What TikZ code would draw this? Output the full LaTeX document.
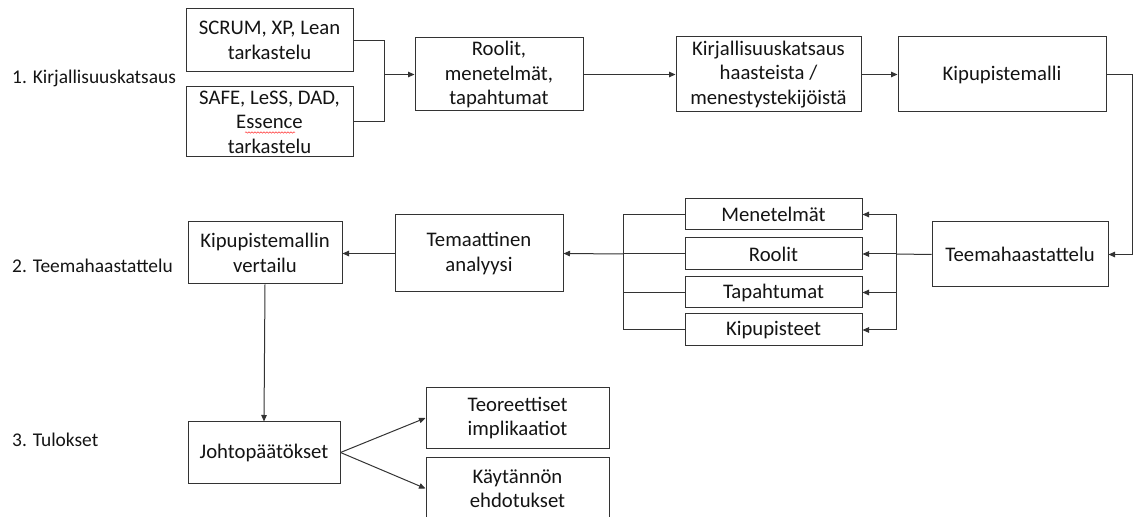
\documentclass[tikz,border=0pt]{standalone}
\usepackage{fontspec}
\setmainfont{Carlito}
\usetikzlibrary{arrows.meta,decorations.pathmorphing}
\begin{document}
\begin{tikzpicture}[x=1bp,y=-1bp,
  box/.style={draw=black!80, line width=1bp, fill=white, rectangle, inner sep=0pt,
    align=center, text=black!92, font=\fontsize{20.8}{24.5}\selectfont},
  link/.style={draw=black!80, line width=1bp},
  arr/.style={link, -{Triangle[length=6.5bp,width=5.5bp]}},
  phase/.style={anchor=west, inner sep=0pt, text=black!92,
    font=\fontsize{19.5}{23}\selectfont}]
\clip (0,0) rectangle (1135,517);

% phase labels
\node[phase] (p1) at (12,78) {1. Kirjallisuuskatsaus};
\node[phase] (p2) at (12,266) {2. Teemahaastattelu};
\node[phase] (p3) at (12,440) {3. Tulokset};

% phase 1
\node[box, minimum width=167bp, minimum height=63bp] (scrum) at (269.5,40.5) {SCRUM, XP, Lean\\tarkastelu};
\node[box, minimum width=167bp, minimum height=70bp] (safe) at (269.5,122) {SAFE, LeSS, DAD,\\Essence\\tarkastelu};
\node[box, minimum width=168bp, minimum height=73bp] (roles) at (499,74.5) {Roolit,\\menetelmät,\\tapahtumat};
\node[box, minimum width=185bp, minimum height=75bp] (review) at (768.5,74.5) {Kirjallisuuskatsaus\\haasteista /\\menestystekijöistä};
\node[box, minimum width=208bp, minimum height=75bp] (model) at (1002,74.5) {Kipupistemalli};

% spell-check squiggle under "Essence"
\draw[red!80, line width=0.5bp, decorate, decoration={snake, amplitude=0.7bp, segment length=3bp}]
  (245,132.5) -- (295,132.5);

\coordinate (j1) at (384,74.5);
\draw[link] (scrum.east) -| (j1);
\draw[link] (safe.east) -| (j1);
\draw[arr] (j1) -- (roles.west);
\draw[arr] (roles) -- (review);
\draw[arr] (review) -- (model);

% phase 2
\node[box, minimum width=176bp, minimum height=65bp] (interview) at (1020,254.5) {Teemahaastattelu};
\coordinate (r1) at (1132,74.5);
\draw[arr] (model.east) -- (r1) |- (interview.east);

\node[box, minimum width=177bp, minimum height=31bp] (t1) at (773.5,214.5) {Menetelmät};
\node[box, minimum width=177bp, minimum height=32bp] (t2) at (773.5,254) {Roolit};
\node[box, minimum width=177bp, minimum height=31bp] (t3) at (773.5,292.5) {Tapahtumat};
\node[box, minimum width=177bp, minimum height=32bp] (t4) at (773.5,330) {Kipupisteet};

\coordinate (fr) at (896,254);
\coordinate (frT) at (896,214.5);
\coordinate (frB) at (896,330);
\draw[link] (interview.west) -- (fr);
\draw[link] (frT) -- (frB);
\foreach \t in {t1,t2,t3,t4} \draw[arr] (frT |- \t.east) -- (\t.east);

\node[box, minimum width=168bp, minimum height=77bp] (thematic) at (479,253.5) {Temaattinen\\analyysi};
\coordinate (fl) at (623,254);
\coordinate (flT) at (623,214.5);
\coordinate (flB) at (623,330);
\draw[link] (flT) -- (flB);
\foreach \t in {t1,t2,t3,t4} \draw[link] (\t.west) -- (flT |- \t.west);
\draw[arr] (fl) -- (thematic.east);

\node[box, minimum width=154bp, minimum height=62bp] (compare) at (265,253) {Kipupistemallin\\vertailu};
\draw[arr] (thematic.west) -- (compare.east |- thematic.west);

% phase 3
\node[box, minimum width=152bp, minimum height=61bp] (concl) at (264,452.5) {Johtopäätökset};
\draw[arr] (compare.south) -- (concl.north);

\node[box, minimum width=183bp, minimum height=60bp] (theory) at (517.5,418) {Teoreettiset\\implikaatiot};
\node[box, minimum width=183bp, minimum height=63bp] (practice) at (517.5,488.5) {Käytännön\\ehdotukset};
\draw[arr] (concl.east) -- (theory.west);
\draw[arr] (concl.east) -- (practice.west);
\end{tikzpicture}
\end{document}
